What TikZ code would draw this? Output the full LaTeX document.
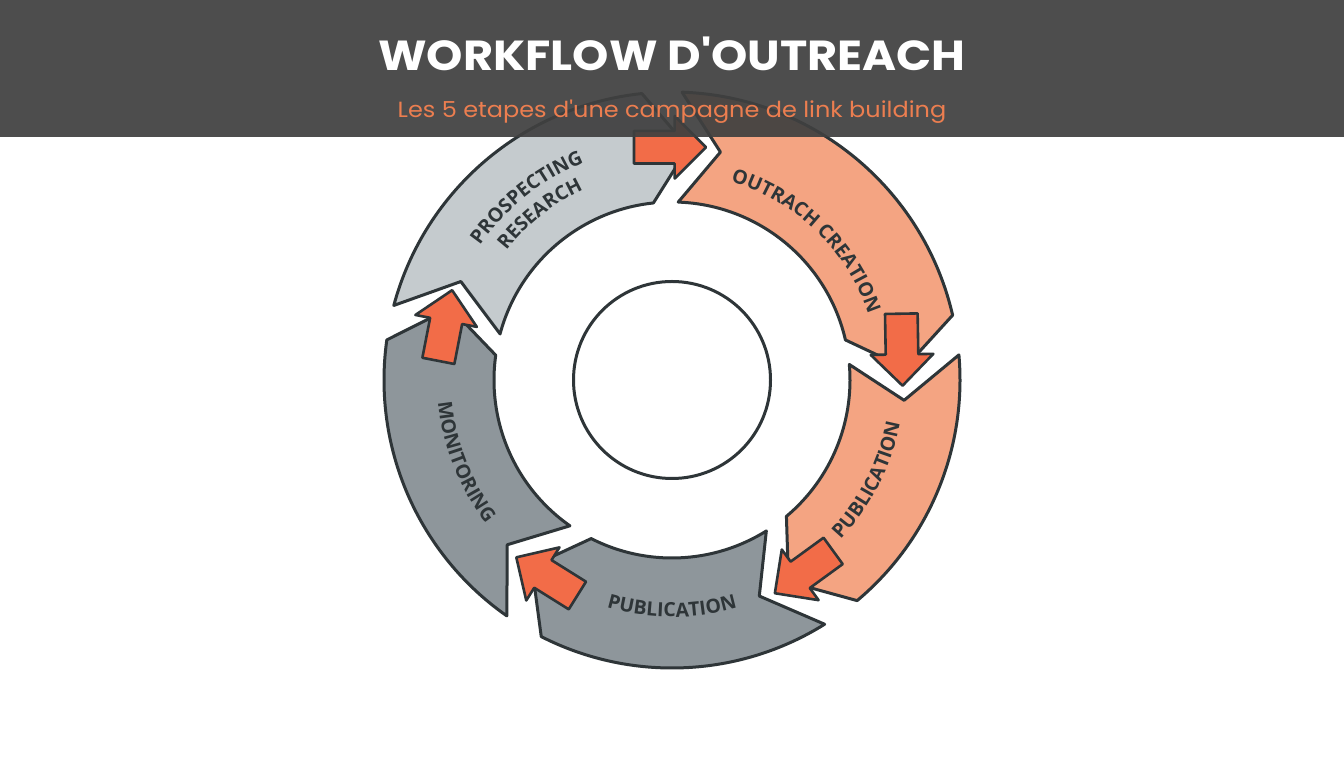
\documentclass[tikz,border=0pt]{standalone}
\usepackage{fontspec}
\setmainfont{Open Sans}
\newfontfamily\ttlfont{Poppins}
\newfontfamily\lblfont{Open Sans}
\usetikzlibrary{decorations.text,shapes.arrows}
\definecolor{hdr}{HTML}{404040}
\definecolor{subor}{HTML}{EC7E50}
\definecolor{lgray}{HTML}{C5CBCE}
\definecolor{salmon}{HTML}{F4A482}
\definecolor{mgray}{HTML}{8E969B}
\definecolor{arrowor}{HTML}{F26C48}
\definecolor{ink}{HTML}{2E3538}
\newcommand\segpath[2]{({#1}:288) -- ({#1-10}:233) -- ({#1}:178) arc[start angle={#1}, end angle={#2}, radius=178] -- ({#2-10}:233) -- ({#2}:288) arc[start angle={#2}, end angle={#1}, radius=288] -- cycle}
\newcommand\lblf{\lblfont\bfseries\fontsize{19.5}{21}\selectfont\color{ink}}
\tikzset{
  seg/.style={draw=ink, line width=3pt, line join=round},
  smallarr/.style={single arrow, draw=ink, fill=arrowor, line width=2.6pt, line join=round,
    minimum height=72pt, minimum width=60pt, single arrow head extend=15pt,
    inner xsep=0pt, inner ysep=15pt},
  hub/.style={circle, draw=ink, fill=white, line width=3pt, minimum size=197pt, inner sep=0pt},
  lbl/.style={decorate}
}
\begin{document}
\begin{tikzpicture}[x=1pt,y=1pt]
\useasboundingbox (0,0) rectangle (1344,768);
\fill[white] (0,0) rectangle (1344,768);
\begin{scope}[shift={(672,388)}]
  % ring segments
  \draw[seg, fill=lgray] \segpath{165}{96};
  \draw[seg, fill=salmon] \segpath{88}{13};
  \draw[seg, fill=salmon] \segpath{5}{-50};
  \draw[seg, fill=mgray] \segpath{-58}{-117};
  \draw[seg, fill=mgray] \segpath{-125}{-188};
  % hub
  \node[hub] (hub) at (0,0) {};
  % small arrows
  \node[smallarr, rotate=0] (ar1) at (92.5:233) {};
  \node[smallarr, rotate=-89] (ar2) at (9.5:233) {};
  \node[smallarr, rotate=-144] (ar3) at (-53.5:233) {};
  \node[smallarr, rotate=148] (ar4) at (-120.5:233) {};
  \node[smallarr, rotate=79] (ar5) at (168.5:233) {};
  % labels
  \path[lbl, decoration={text along path, text align=center, text={|\lblf|PROSPECTING}}]
    (170:234.5) arc[start angle=170, end angle=87, radius=234.5];
  \path[lbl, decoration={text along path, text align=center, text={|\lblf|RESEARCH}}]
    (170:210) arc[start angle=170, end angle=87, radius=210];
  \path[lbl, decoration={text along path, text align=center, text={|\lblf|OUTRACH CREATION}}]
    (96:207) arc[start angle=96, end angle=-4, radius=207];
  \path[lbl, decoration={text along path, text align=center, text={|\lblf|PUBLICATION}}]
    (-67:232) arc[start angle=-67, end angle=13, radius=232];
  \path[lbl, decoration={text along path, text align=center, text={|\lblf|PUBLICATION}}]
    (-130:237) arc[start angle=-130, end angle=-50, radius=237];
  \path[lbl, decoration={text along path, text align=center, text={|\lblf|MONITORING}}]
    (-198.5:235) arc[start angle=-198.5, end angle=-118.5, radius=235];
\end{scope}
% header band
\fill[hdr, opacity=0.93] (0,631) rectangle (1344,768);
\node[text=white, font=\ttlfont\bfseries\fontsize{42}{46}\selectfont] (title) at (672,714) {\scalebox{1.1}[1]{WORKFLOW D'OUTREACH}};
\node[text=subor, font=\ttlfont\fontsize{22}{26}\selectfont] (subtitle) at (672,656) {\scalebox{1.09}[1]{Les 5 etapes d'une campagne de link building}};
\end{tikzpicture}
\end{document}
